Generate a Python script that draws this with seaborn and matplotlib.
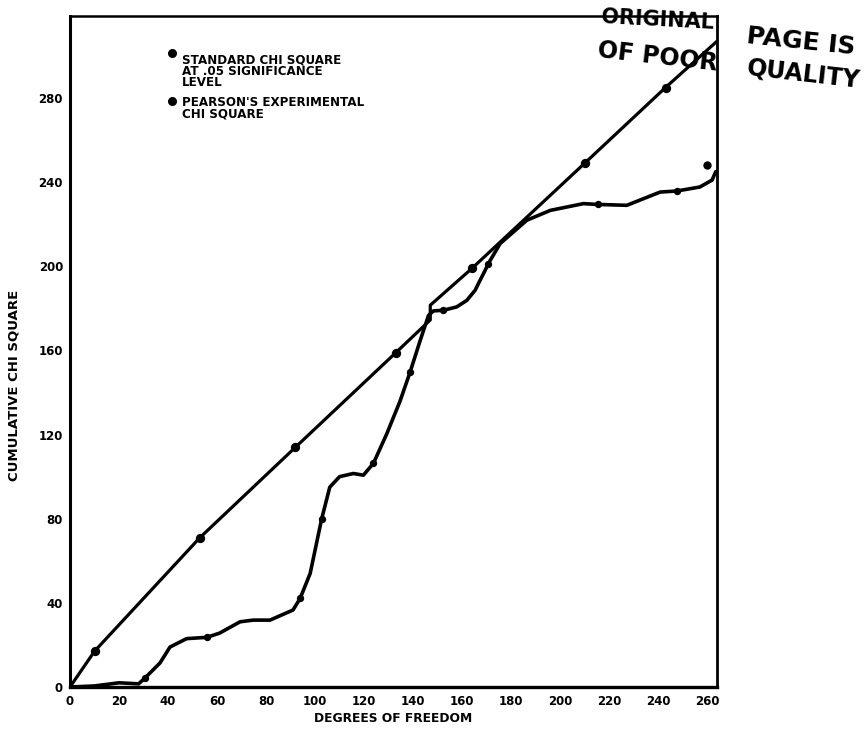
import matplotlib
matplotlib.use("Agg")
import matplotlib.pyplot as plt
import seaborn as sns
import pandas as pd

sns.set_theme(style="white")
plt.rcParams['font.family'] = ['DejaVu Sans']
plt.rcParams['font.weight'] = 'bold'
plt.rcParams['text.color'] = 'black'
plt.rcParams['axes.labelcolor'] = 'black'
plt.rcParams['xtick.color'] = 'black'
plt.rcParams['ytick.color'] = 'black'

# ---------------- data ----------------
# Standard chi square at .05 significance level (marked points)
std_df = [10, 53, 92, 133, 164, 210, 243]
std_chi = [17, 71, 114, 159, 199, 249, 285]
# hand-drawn standard line path (has a small jog near df 147)
std_line_df = [0, 10, 53, 92, 133, 147, 147, 164, 210, 243, 264]
std_line_chi = [0, 17, 71, 114, 159, 174.5, 181.5, 199, 249, 285, 307]

# Pearson's experimental chi square: curve traced through the plot
exp_line_df = [0, 10, 20, 28, 30.6, 36.7, 40.8, 47.6, 55.8, 61, 69.4, 74.8,
               81.6, 91, 93.9, 98, 102.7, 106, 110, 115.6, 119.7, 123.8,
               129.3, 134.7, 138.8, 142.9, 146.3, 148.3, 152.4, 157.8, 161.9,
               165.3, 167.3, 169.4, 170.7, 175.5, 186.4, 196, 209.5, 215.6,
               227.2, 232.6, 240.8, 247.6, 257, 262, 263.5]
exp_line_chi = [0, 0.5, 2, 1.5, 4.3, 11.4, 19, 23, 23.6, 25.6, 31, 31.8,
                31.8, 36.6, 42.1, 54, 80, 95, 100, 101.5, 100.7, 106.3,
                120.5, 136, 149.8, 164.8, 176.7, 178.8, 179.1, 180.7, 183.8,
                188.6, 193.3, 198.1, 201.3, 210.8, 221.9, 226.6, 229.8, 229.4,
                229, 231.5, 235.3, 235.8, 237.7, 241, 245]
# marked experimental points
exp_df = [30.6, 55.8, 93.9, 102.7, 123.8, 138.8, 152.4, 170.7, 215.6, 247.6]
exp_chi = [4.3, 23.6, 42.1, 80, 106.3, 149.8, 179.1, 201.3, 229.4, 235.8]
# isolated final experimental point
exp_last_df = [260]
exp_last_chi = [248]

x_ticks = list(range(0, 261, 20))
y_ticks = list(range(0, 281, 40))

legend_labels = ["STANDARD CHI SQUARE\nAT .05 SIGNIFICANCE\nLEVEL",
                 "PEARSON'S EXPERIMENTAL\nCHI SQUARE"]

# ---------------- figure ----------------
W, H = 868, 730
fig = plt.figure(figsize=(W / 100, H / 100), dpi=100)
L, R, T, B = 70, 717, 16, 687
ax = fig.add_axes([L / W, 1 - B / H, (R - L) / W, (B - T) / H])

std_line = pd.DataFrame({"df": std_line_df, "chi": std_line_chi})
exp_line = pd.DataFrame({"df": exp_line_df, "chi": exp_line_chi})

sns.lineplot(data=std_line, x="df", y="chi", sort=False, estimator=None,
             color="black", lw=2.3, ax=ax)
sns.lineplot(data=exp_line, x="df", y="chi", sort=False, estimator=None,
             color="black", lw=2.6, ax=ax)
sns.scatterplot(x=std_df, y=std_chi, color="black", s=45, marker="o",
                edgecolor="black", linewidth=0, ax=ax, zorder=5)
sns.scatterplot(x=exp_df, y=exp_chi, color="black", s=28, marker="o",
                edgecolor="black", linewidth=0, ax=ax, zorder=5)
sns.scatterplot(x=exp_last_df, y=exp_last_chi, color="black", s=36,
                marker="o", edgecolor="black", linewidth=0, ax=ax, zorder=5,
                clip_on=False)

ax.set_xlim(0, 264)
ax.set_ylim(0, 319)
ax.set_xticks(x_ticks)
ax.set_yticks(y_ticks)
ax.set_xticklabels([str(v) for v in x_ticks], fontsize=8.5, fontweight="bold")
ax.set_yticklabels([str(v) for v in y_ticks], fontsize=8.5, fontweight="bold")
ax.tick_params(axis="x", direction="in", length=4, width=1.5, pad=6,
               colors="black")
ax.tick_params(axis="y", direction="in", length=9, width=1.5, pad=5,
               colors="black")

for side, lw in [("left", 2.2), ("bottom", 2.4), ("right", 2.0), ("top", 1.8)]:
    ax.spines[side].set_visible(True)
    ax.spines[side].set_linewidth(lw)
    ax.spines[side].set_color("black")

ax.set_xlabel("DEGREES OF FREEDOM", fontsize=8.8, fontweight="bold")
ax.set_ylabel("CUMULATIVE CHI SQUARE", fontsize=9.5, fontweight="bold")
ax.xaxis.set_label_coords(0.5, (B - 712) / (B - T))
ax.yaxis.set_label_coords((21 - L) / (R - L), (B - 385) / (B - T))


def ax_pt(px, py):
    return ((px - L) / (R - L), (B - py) / (B - T))


# legend (drawn by hand to match the original layout)
for (mx, my), (tx, ty), lab in [((172, 53), (182, 53.5), legend_labels[0]),
                                ((172, 101.5), (182, 96.5), legend_labels[1])]:
    ax.scatter(*ax_pt(mx, my), s=30, color="black", transform=ax.transAxes,
               clip_on=False, zorder=6)
    ax.text(*ax_pt(tx, ty), lab, transform=ax.transAxes, ha="left", va="top",
            fontsize=8.6, fontweight="bold", linespacing=0.85)

# stamp
stamp = [("ORIGINAL", 601, 23, -3, 15),
         ("PAGE IS", 746, 43, -6, 18),
         ("OF POOR", 597, 57, -6.5, 17),
         ("QUALITY", 746, 75, -6.5, 17)]
for txt, px, py, rot, fs in stamp:
    fig.text(px / W, 1 - py / H, txt, rotation=rot, rotation_mode="anchor",
             ha="left", va="baseline", fontsize=fs, fontweight="bold",
             color="black")

fig.savefig("out.png", dpi=100, facecolor="white")
